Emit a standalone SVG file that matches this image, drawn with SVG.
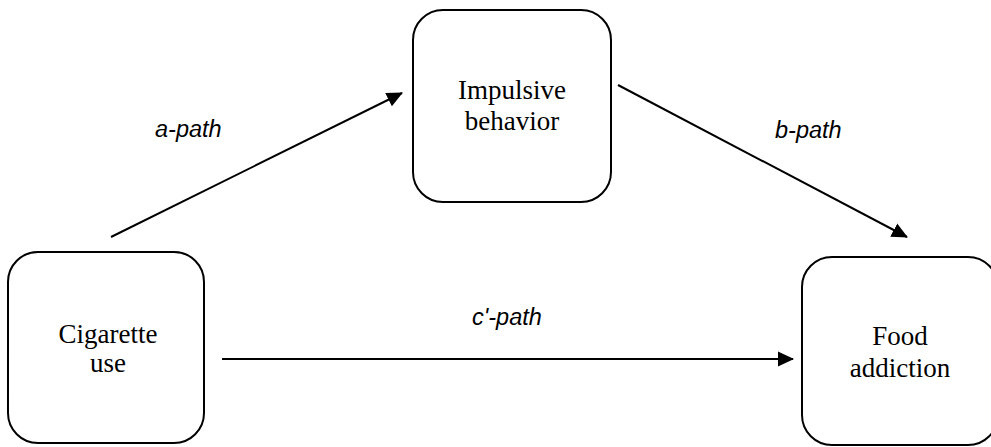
<svg xmlns="http://www.w3.org/2000/svg" width="991" height="447" viewBox="0 0 991 447">
<style>
.box{fill:#fff;stroke:#000;stroke-width:2}
.nt{font-family:"Liberation Serif","Times New Roman",serif;font-size:27px;fill:#000;text-anchor:middle}
.lbl{font-family:"Liberation Sans",Arial,sans-serif;font-size:23.5px;font-style:italic;fill:#000}
.edge{stroke:#000;stroke-width:2;fill:none;marker-end:url(#ah)}
</style>
<defs>
<marker id="ah" viewBox="0 0 16 16" refX="15" refY="8" markerWidth="16" markerHeight="16" markerUnits="userSpaceOnUse" orient="auto">
<path d="M0,0.5 L16,8 L0,15.5 Z" fill="#000"/>
</marker>
</defs>
<rect width="991" height="447" fill="#fff"/>
<g id="connectors">
<line class="edge" x1="111" y1="237" x2="402" y2="93"/>
<line class="edge" x1="618" y1="85" x2="907" y2="237"/>
<line class="edge" x1="222" y1="359" x2="793" y2="359"/>
<text class="lbl" x="155" y="137">a-path</text>
<text class="lbl" x="775" y="138">b-path</text>
<text class="lbl" x="472" y="325">c'-path</text>
</g>
<g id="cigarette">
<rect class="box" x="8" y="252" width="196" height="191" rx="30"/>
<text class="nt" x="108" y="343">Cigarette</text>
<text class="nt" x="108" y="372">use</text>
</g>
<g id="impulsive">
<rect class="box" x="413" y="10" width="198" height="192" rx="30"/>
<text class="nt" x="512" y="99">Impulsive</text>
<text class="nt" x="512" y="130">behavior</text>
</g>
<g id="food">
<rect class="box" x="802" y="257" width="196" height="188" rx="30"/>
<text class="nt" x="900" y="345">Food</text>
<text class="nt" x="900" y="377">addiction</text>
</g>
</svg>
